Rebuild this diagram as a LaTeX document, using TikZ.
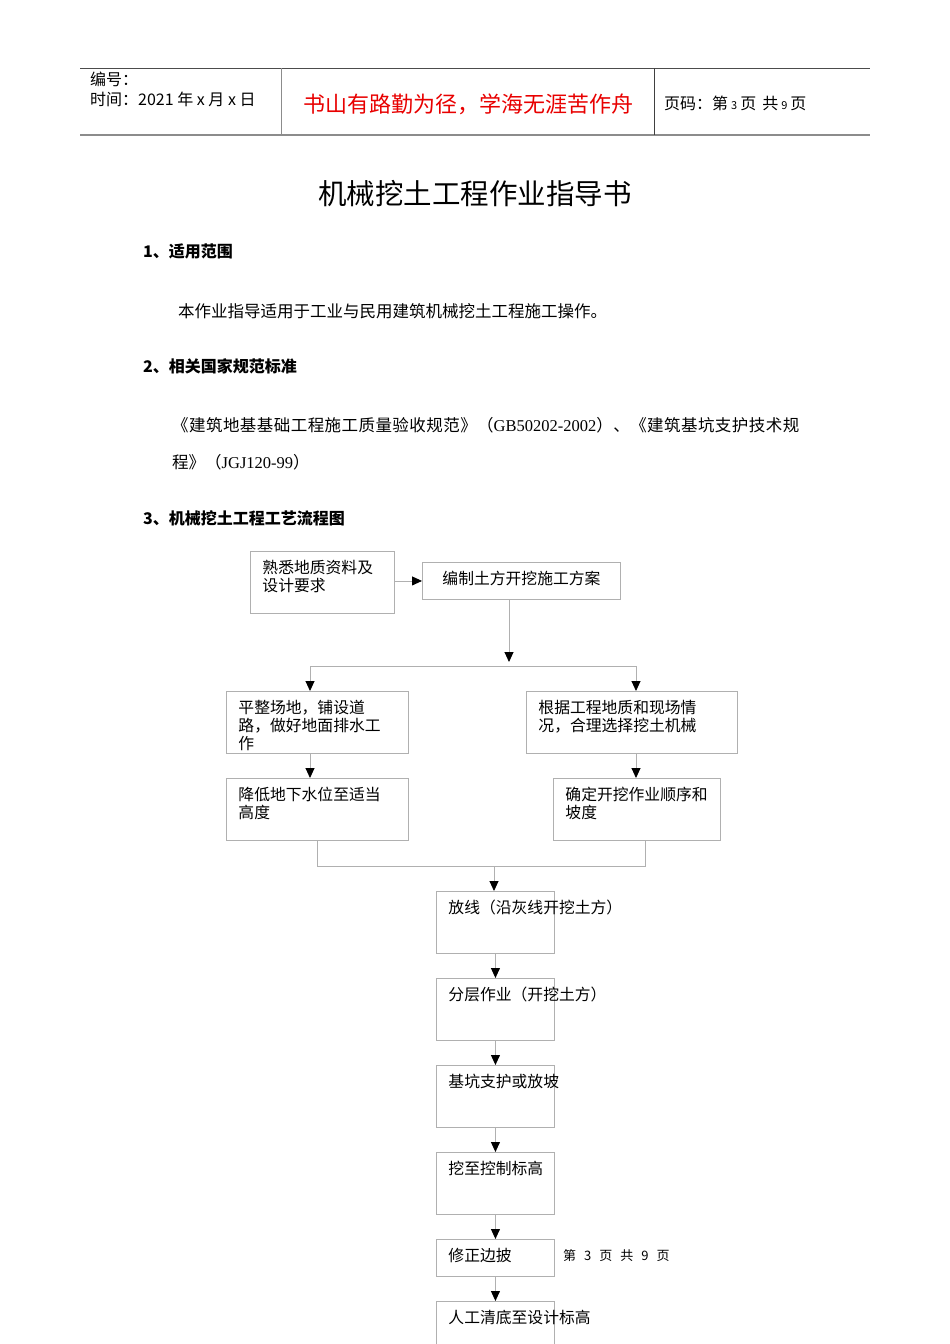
\documentclass[tikz,border=0pt]{standalone}
\usepackage{fontspec}
\setmainfont{Liberation Serif}
\newfontfamily\cjk{Noto Sans CJK SC}
\usetikzlibrary{arrows.meta}
\definecolor{framegray}{RGB}{176,176,176}
\definecolor{rulegray}{RGB}{140,140,140}
\definecolor{mottored}{RGB}{232,0,0}
\tikzset{
  box/.style={draw=framegray, line width=0.9pt, anchor=north west, inner xsep=12pt, inner ysep=4pt,
    text height=18pt, align=left, font=\cjk\fontsize{15.8}{18}\selectfont},
  tall/.style={text depth=36pt},
  short/.style={text depth=11pt},
  link/.style={draw=framegray, line width=0.9pt},
  flow/.style={link, -{Triangle[width=9pt,length=10pt,color=black]}},
  hdr/.style={anchor=west, inner sep=0pt, font=\cjk\fontsize{16}{19}\selectfont},
  heading/.style={anchor=west, inner sep=0pt, font=\cjk\bfseries\fontsize{16}{19}\selectfont},
  body/.style={anchor=west, inner sep=0pt, font=\cjk\fontsize{16.5}{20}\selectfont},
}
\begin{document}
\begin{tikzpicture}[x=1pt, y=-1pt]
    \useasboundingbox (0,0) rectangle (950,1344);
    % page header
    \draw[black!70, line width=0.8pt] (80,68) -- (870,68);
    \draw[rulegray, line width=1.6pt] (80,135) -- (870,135);
    \draw[rulegray, line width=0.9pt] (281,68) -- (281,135);
    \draw[black!75, line width=0.8pt] (654,68) -- (654,135);
    \node[hdr] (serial) at (90,79) {编号：};
    \node[hdr] (date) at (90,99) {时间：2021 年 x 月 x 日};
    \node[font=\cjk\fontsize{22}{26}\selectfont, text=mottored] (motto) at (468,104) {书山有路勤为径，学海无涯苦作舟};
    \node[hdr] (pageno) at (664,103) {页码：第\hspace{3pt}{\fontsize{11}{13}\selectfont 3}\hspace{3pt}页\hspace{6pt}共\hspace{3pt}{\fontsize{11}{13}\selectfont 9}\hspace{3pt}页};
    % title and sections
    \node[font=\cjk\fontsize{28.5}{34}\selectfont] (title) at (475,194) {机械挖土工程作业指导书};
    \node[heading] (sec1) at (143,251) {1、适用范围};
    \node[body] (scope) at (178,311) {本作业指导适用于工业与民用建筑机械挖土工程施工操作。};
    \node[heading] (sec2) at (143,366) {2、相关国家规范标准};
    \node[body] (norm1) at (172,425) {\addfontfeature{LetterSpace=2.7}《建筑地基基础工程施工质量验收规范》（{\rmfamily GB50202-2002}）、《建筑基坑支护技术规};
    \node[body] (norm2) at (172,462) {程》（{\rmfamily JGJ120-99}）};
    \node[heading] (sec3) at (143,518) {3、机械挖土工程工艺流程图};
    % flow chart
    \node[box, tall, text width=120pt] (study) at (250,551) {熟悉地质资料及\\设计要求};
    \node[box, short, text width=174pt, align=center] (plan) at (422,562) {编制土方开挖施工方案};
    \node[box, tall, text width=158pt] (level) at (226,691) {平整场地，铺设道\\路，做好地面排水工\\作};
    \node[box, tall, text width=187pt] (choose) at (526,691) {根据工程地质和现场情\\况，合理选择挖土机械};
    \node[box, tall, text width=158pt] (water) at (226,778) {降低地下水位至适当\\高度};
    \node[box, tall, text width=143pt] (order) at (553,778) {确定开挖作业顺序和\\坡度};
    \node[box, tall, text width=94pt] (stake) at (436,891) {放线（沿灰线开挖土方）};
    \node[box, tall, text width=94pt] (layer) at (436,978) {分层作业（开挖土方）};
    \node[box, tall, text width=94pt] (support) at (436,1065) {基坑支护或放坡};
    \node[box, tall, text width=94pt] (depth) at (436,1152) {挖至控制标高};
    \node[box, short, text width=94pt] (trim) at (436,1239) {修正边披};
    \node[box, tall, text width=94pt] (clean) at (436,1301) {人工清底至设计标高};
    \node[anchor=west, inner sep=0pt, font=\cjk\fontsize{13}{15}\selectfont] (pagefoot) at (563,1256)
        {第\hspace{8pt}3\hspace{8pt}页\hspace{8pt}共\hspace{8pt}9\hspace{8pt}页};
    \coordinate (split) at (509,666);
    \coordinate (splitL) at (310,666);
    \coordinate (splitR) at (636,666);
    \coordinate (merge) at (494,866);
    \coordinate (mergeR) at (645,866);
    \draw[flow] (study.east |- plan.west) -- (plan.west);
    \draw[flow, shorten >=4pt] (split |- plan.south) -- (split);
    \draw[link] (splitL) -- (splitR);
    \draw[flow] (splitL) -- (splitL |- level.north);
    \draw[flow] (splitR) -- (splitR |- choose.north);
    \draw[flow] (splitL |- level.south) -- (splitL |- water.north);
    \draw[flow] (splitR |- choose.south) -- (splitR |- order.north);
    \draw[link] (water.south) -- (water.south |- merge) -- (mergeR) -- (mergeR |- order.south);
    \draw[flow] (merge) -- (merge |- stake.north);
    \draw[flow] (stake.south) -- (layer.north);
    \draw[flow] (layer.south) -- (support.north);
    \draw[flow] (support.south) -- (depth.north);
    \draw[flow] (depth.south) -- (trim.north);
    \draw[flow] (trim.south) -- (clean.north);
\end{tikzpicture}
\end{document}
